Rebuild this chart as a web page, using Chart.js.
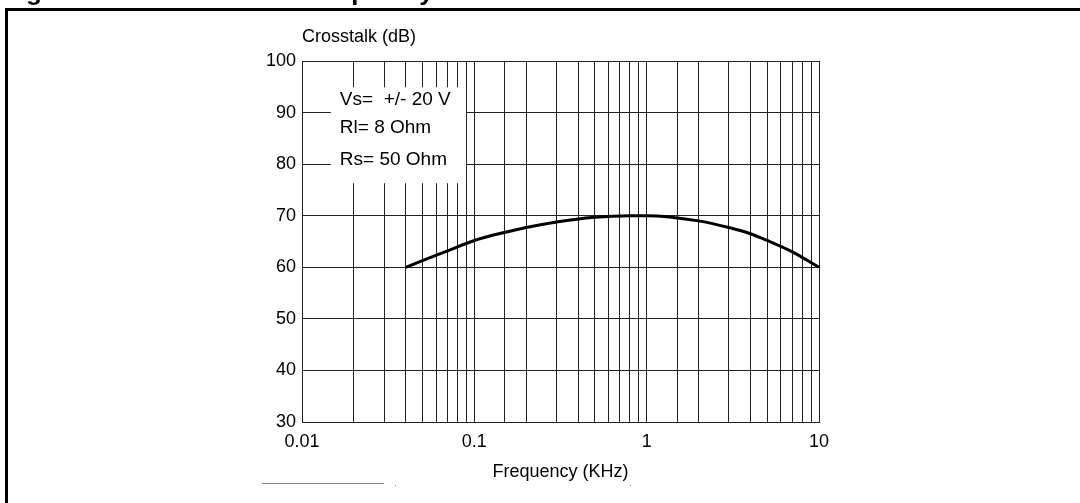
<!DOCTYPE html>
<html>
<head>
<meta charset="utf-8">
<script src="https://cdn.jsdelivr.net/npm/chart.js@4.4.1/dist/chart.umd.min.js"></script>
<style>
  html, body { margin: 0; padding: 0; background: #fff; }
  #wrap { width: 1080px; height: 503px; position: relative; }
</style>
</head>
<body>
<div id="wrap"><canvas id="xtalkChart"></canvas></div>
<script>
// данные
const freqKHz = [0.04, 0.05, 0.07, 0.1, 0.2, 0.3, 0.5, 0.8, 1, 2, 3, 4, 5, 7, 10];
const crosstalkDb = [60, 61.3, 63.2, 65.2, 67.7, 68.8, 69.7, 70, 70, 69, 67.7, 66.5, 65.2, 63, 60];
const xTickLabels = [0.01, 0.1, 1, 10];
const yTickLabels = [30, 40, 50, 60, 70, 80, 90, 100];
const conditions = ["Vs=  +/- 20 V", "Rl= 8 Ohm", "Rs= 50 Ohm"];

const FONT = "'Liberation Sans', Arial, sans-serif";

// рамка, заголовок и подписи
const decorPlugin = {
    id: "decor",
    afterDatasetsDraw(chart) {
        const ctx = chart.ctx;
        const area = chart.chartArea;
        const xs = chart.scales.x;
        const ys = chart.scales.y;
        ctx.save();

        // белый блок с условиями поверх сетки
        const bx1 = xs.getPixelForValue(0.0147);
        const bx2 = xs.getPixelForValue(0.0895);
        const by1 = ys.getPixelForValue(94.9);
        const by2 = ys.getPixelForValue(76.3);
        ctx.fillStyle = "#fff";
        ctx.fillRect(bx1, by1, bx2 - bx1, by2 - by1);

        ctx.fillStyle = "#000";
        ctx.font = "19px " + FONT;
        ctx.textBaseline = "middle";
        ctx.textAlign = "left";
        const lineY = [100, 128, 160];
        conditions.forEach((t, i) => ctx.fillText(t, bx1 + 9, lineY[i]));

        // подписи осей
        ctx.font = "18px " + FONT;
        ctx.fillText("Crosstalk (dB)", area.left, area.top - 24);
        ctx.textAlign = "center";
        ctx.fillText("Frequency (KHz)", (area.left + area.right) / 2, 472);

        // обрезанный заголовок сверху
        ctx.font = "bold 26px " + FONT;
        ctx.textAlign = "left";
        ctx.textBaseline = "alphabetic";
        ctx.fillText("Figure 14. Crosstalk vs. Frequency", 3, 0);

        // рамка рисунка
        ctx.fillRect(5, 8, 1075, 3);
        ctx.fillRect(5, 8, 3, 495);

        // серый штрих внизу
        ctx.fillStyle = "#888";
        ctx.fillRect(262, 483, 122, 1);
        ctx.fillRect(395, 485, 1, 1);
        ctx.fillRect(630, 485, 1, 1);
        ctx.restore();
    }
};

new Chart(document.getElementById("xtalkChart"), {
    type: "line",
    data: {
        datasets: [{
            data: freqKHz.map((f, i) => ({ x: f, y: crosstalkDb[i] })),
            borderColor: "#000",
            borderWidth: 3,
            pointRadius: 0,
            fill: false,
            cubicInterpolationMode: "monotone"
        }]
    },
    options: {
        responsive: true,
        maintainAspectRatio: false,
        animation: false,
        events: [],
        layout: { padding: { left: 0, right: 261, top: 61, bottom: 0 } },
        plugins: { legend: { display: false }, tooltip: { enabled: false } },
        scales: {
            x: {
                type: "logarithmic",
                min: 0.01,
                max: 10,
                afterFit(scale) { scale.height = 81; },
                grid: { color: "#222", lineWidth: 1, drawTicks: false },
                border: { color: "#222", width: 1 },
                ticks: {
                    autoSkip: false,
                    maxRotation: 0,
                    padding: 9,
                    color: "#000",
                    font: { family: FONT, size: 18 },
                    callback: (v) => xTickLabels.includes(Number(v.toPrecision(6))) ? String(Number(v.toPrecision(6))) : ""
                }
            },
            y: {
                min: 30,
                max: 100,
                afterFit(scale) { scale.width = 302; },
                grid: { color: "#222", lineWidth: 1, drawTicks: false },
                border: { color: "#222", width: 1 },
                ticks: {
                    stepSize: 10,
                    padding: 6,
                    color: "#000",
                    font: { family: FONT, size: 18 },
                    callback: (v) => yTickLabels.includes(v) ? String(v) : ""
                }
            }
        }
    },
    plugins: [decorPlugin]
});
</script>
</body>
</html>
